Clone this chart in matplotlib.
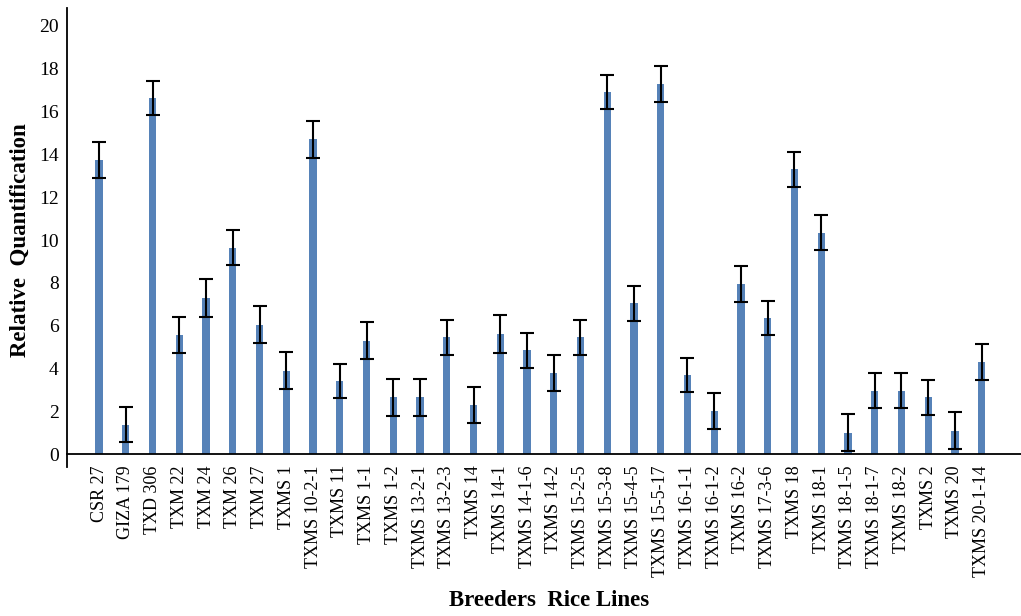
import matplotlib
matplotlib.use("Agg")
import matplotlib.pyplot as plt
import numpy as np

lines = ["CSR 27", "GIZA 179", "TXD 306", "TXM 22", "TXM 24", "TXM 26", "TXM 27",
         "TXMS 1", "TXMS 10-2-1", "TXMS 11", "TXMS 1-1", "TXMS 1-2", "TXMS 13-2-1",
         "TXMS 13-2-3", "TXMS 14", "TXMS 14-1", "TXMS 14-1-6", "TXMS 14-2",
         "TXMS 15-2-5", "TXMS 15-3-8", "TXMS 15-4-5", "TXMS 15-5-17", "TXMS 16-1-1",
         "TXMS 16-1-2", "TXMS 16-2", "TXMS 17-3-6", "TXMS 18", "TXMS 18-1",
         "TXMS 18-1-5", "TXMS 18-1-7", "TXMS 18-2", "TXMS 2", "TXMS 20", "TXMS 20-1-14"]
rq = [13.75, 1.38, 16.65, 5.55, 7.3, 9.65, 6.05, 3.9, 14.7, 3.4, 5.3, 2.65, 2.65,
      5.45, 2.3, 5.6, 4.85, 3.8, 5.45, 16.9, 7.05, 17.3, 3.7, 2.0, 7.95, 6.35,
      13.3, 10.35, 1.0, 2.95, 2.95, 2.65, 1.1, 4.3]
rq_err = [0.83, 0.83, 0.8, 0.85, 0.88, 0.8, 0.85, 0.87, 0.85, 0.8, 0.85, 0.85, 0.85,
          0.8, 0.85, 0.88, 0.82, 0.85, 0.8, 0.8, 0.82, 0.85, 0.8, 0.85, 0.83, 0.8,
          0.82, 0.82, 0.85, 0.82, 0.82, 0.82, 0.85, 0.82]
y_ticks = [0, 2, 4, 6, 8, 10, 12, 14, 16, 18, 20]

plt.rcParams["font.family"] = ["Liberation Serif", "DejaVu Serif"]

fig = plt.figure(figsize=(10.21, 6.16), dpi=100)
ax = fig.add_axes([0.0656, 0.242, 0.9344, 0.745])

# spines first: repositioning a spine resets the tick label styling
ax.spines["top"].set_visible(False)
ax.spines["right"].set_visible(False)
ax.spines["bottom"].set_position(("data", 0))
for s in ("left", "bottom"):
    ax.spines[s].set_linewidth(1.3)
    ax.spines[s].set_color("black")

x = np.arange(len(lines))
ax.bar(x, rq, width=0.27, color="#5682B8", zorder=2)
ax.errorbar(x, rq, yerr=rq_err, fmt="none", ecolor="black", elinewidth=1.5,
            capsize=5.2, capthick=1.5, zorder=3)

ax.set_xlim(-1.2, len(lines) - 1 + 1.47)
ax.set_ylim(-0.6, 20.84)
ax.set_yticks(y_ticks)
ax.set_yticklabels([str(v) for v in y_ticks], fontsize=14)
ax.set_xticks(x)
ax.set_xticklabels(lines, rotation=90, fontsize=13, ha="center", va="top")

ax.tick_params(axis="y", length=0, pad=6)
ax.tick_params(axis="x", length=0, pad=8)

fig.text(549 / 1021, 1 - 600 / 616, "Breeders  Rice Lines", ha="center",
         va="center", fontsize=16.5, fontweight="bold")
fig.text(20 / 1021, 1 - 240 / 616, "Relative  Quantification", ha="center",
         va="center", rotation=90, fontsize=16.5, fontweight="bold")

fig.savefig("out.png", dpi=100)
